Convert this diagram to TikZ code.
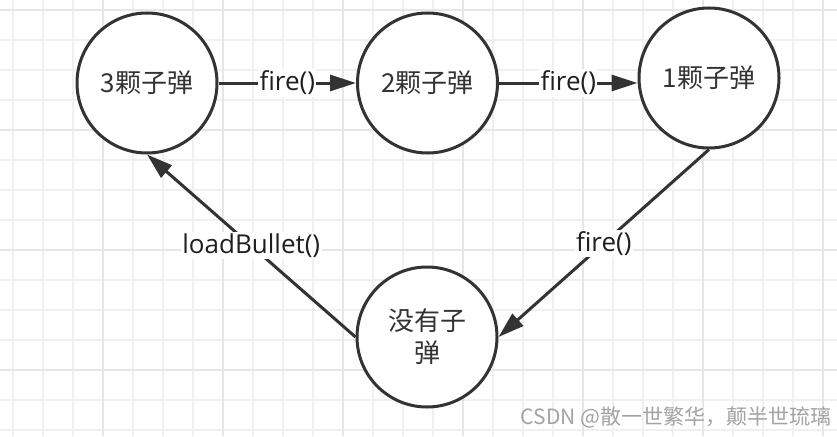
\documentclass[tikz,border=0pt]{standalone}
\usepackage{fontspec}
\setmainfont{Open Sans}
\newfontfamily\cjk{Noto Sans CJK SC}
\usetikzlibrary{arrows.meta}
\definecolor{inkgray}{HTML}{333333}
\definecolor{gridminor}{HTML}{F0F0F0}
\definecolor{gridmajor}{HTML}{E6E6E6}
\definecolor{marktext}{HTML}{A3A3A3}

\begin{document}
\begin{tikzpicture}[x=1pt, y=-1pt,
    state/.style={circle, draw=inkgray, line width=3pt, fill=white, minimum size=140pt,
        inner sep=0pt, text=inkgray, align=center, font=\fontsize{26}{32}\selectfont\cjk},
    trans/.style={draw=inkgray, line width=3pt, -{Triangle[length=26pt, width=16pt]}},
    call/.style={fill=white, inner sep=1.5pt, text=black!88, font=\fontsize{26}{32}\selectfont}]
    \useasboundingbox (0,0) rectangle (837,436);
    \fill[white] (0,0) rectangle (837,436);

    \foreach \k in {0,...,27} \draw[gridminor, line width=1.6pt] ({12.7+30*\k},0) -- ({12.7+30*\k},436);
    \foreach \k in {0,...,14} \draw[gridminor, line width=1.6pt] (0,{10+30*\k}) -- (837,{10+30*\k});
    \foreach \k in {0,...,6} \draw[gridmajor, line width=1.6pt] ({102.7+120*\k},0) -- ({102.7+120*\k},436);
    \foreach \k in {0,...,3} \draw[gridmajor, line width=1.6pt] (0,{10+120*\k}) -- (837,{10+120*\k});

    \node[state] (c1) at (147,83) {3颗子弹};
    \node[state] (c2) at (427.5,83) {2颗子弹};
    \node[state] (c3) at (709,78) {1颗子弹};
    \node[state] (c4) at (427,337) {没有子\\弹};

    \draw[trans] (c1) -- node[call] {fire()} (c2);
    \draw[trans] (c2.east) -- node[call] {fire()} (c2.east -| c3.west);
    \draw[trans] (c3.south) -- node[call] {fire()} (c4.east);
    \draw[trans] (c4.west) -- node[call] {loadBullet()} (c1.south);

    \node[text=marktext, font=\fontsize{21}{24}\selectfont\cjk] (mark) at (676,417) {CSDN @散一世繁华，颠半世琉璃};
\end{tikzpicture}
\end{document}
